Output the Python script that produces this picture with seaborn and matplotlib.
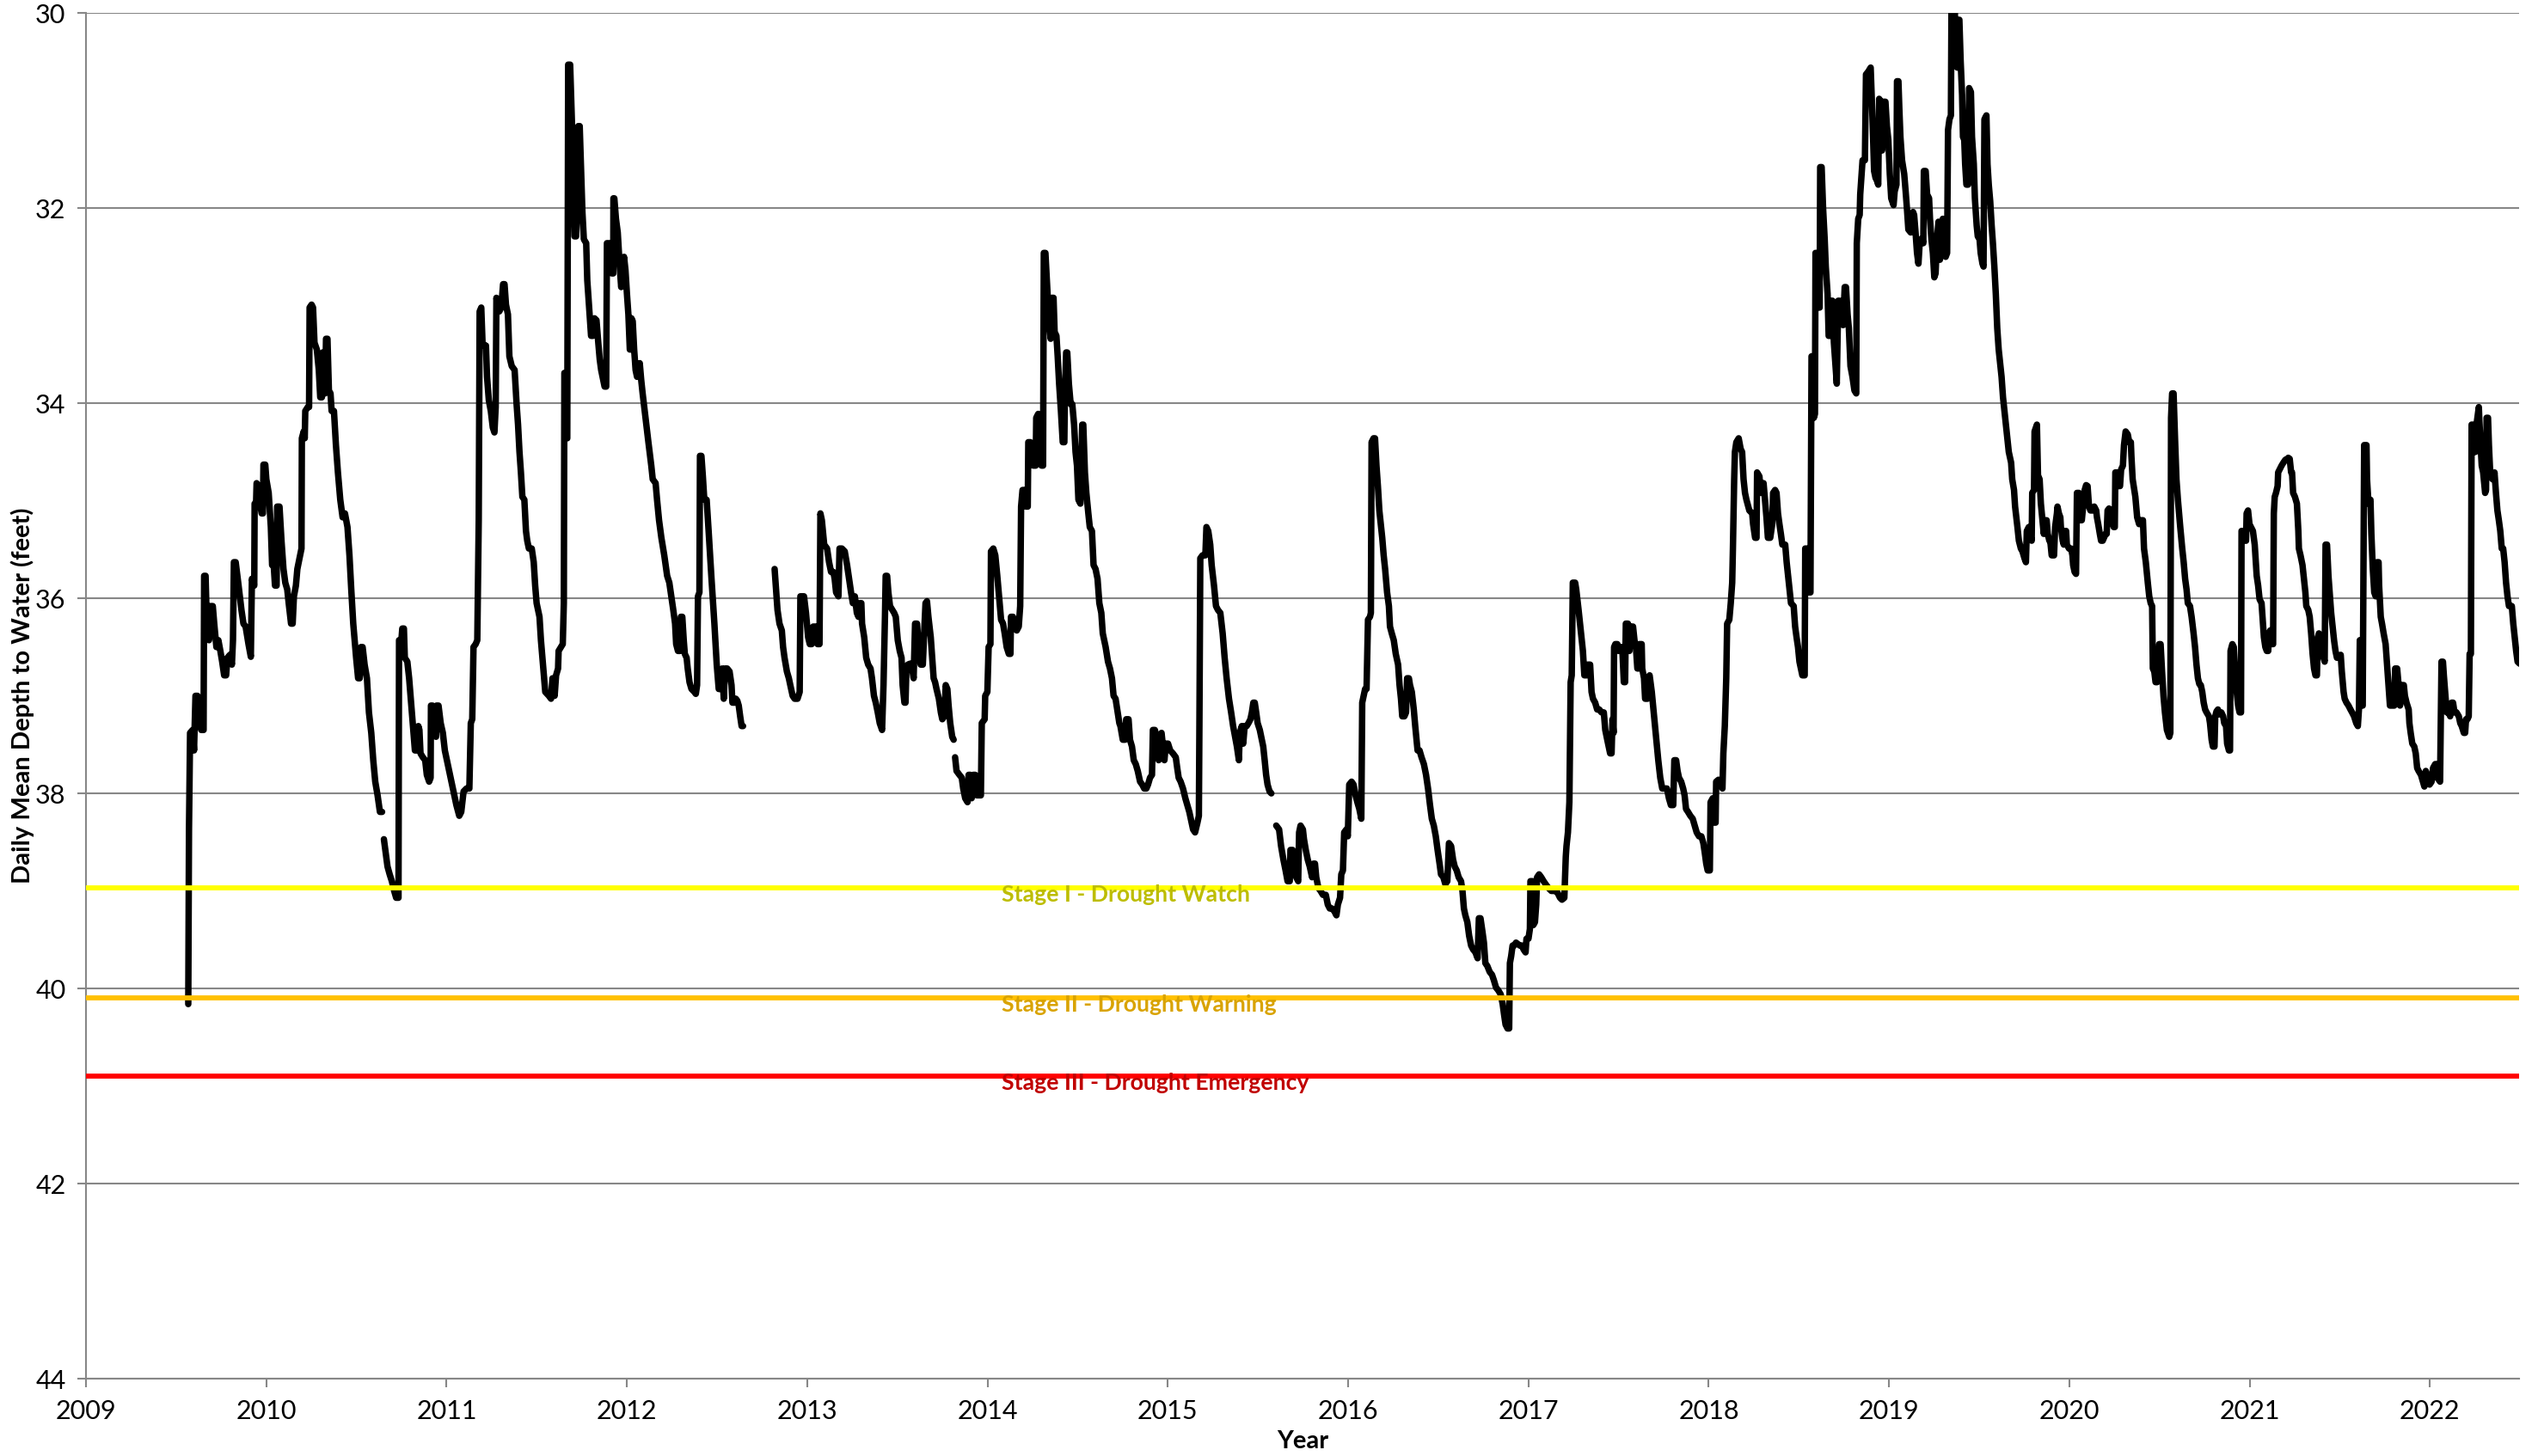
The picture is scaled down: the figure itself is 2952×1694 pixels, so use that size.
import matplotlib
matplotlib.use("Agg")
import matplotlib.pyplot as plt
import pandas as pd
import seaborn as sns

# ---------------- data (decimal year, depth to water in feet) ----------------
seg_a = [(2009.567, 40.16), (2009.571, 38.37), (2009.577, 37.38), (2009.591, 37.35), (2009.599, 37.56),
         (2009.607, 37.00), (2009.618, 37.00), (2009.623, 37.24), (2009.639, 37.35), (2009.652, 37.35),
         (2009.655, 35.77), (2009.663, 35.77), (2009.671, 36.33), (2009.682, 36.43), (2009.690, 36.08),
         (2009.703, 36.08), (2009.711, 36.26), (2009.723, 36.50), (2009.734, 36.43), (2009.745, 36.54),
         (2009.755, 36.65), (2009.766, 36.79), (2009.777, 36.79), (2009.784, 36.61), (2009.798, 36.58),
         (2009.809, 36.68), (2009.815, 36.43), (2009.820, 35.63), (2009.830, 35.63), (2009.846, 35.87),
         (2009.862, 36.12), (2009.873, 36.26), (2009.885, 36.29), (2009.901, 36.47), (2009.914, 36.60),
         (2009.920, 35.80), (2009.933, 35.87), (2009.935, 35.03), (2009.943, 35.03), (2009.946, 34.82),
         (2009.957, 34.85), (2009.965, 35.03), (2009.974, 35.13), (2009.981, 35.13), (2009.984, 34.63),
         (2009.994, 34.63), (2010.000, 34.78), (2010.013, 34.92), (2010.025, 35.27), (2010.032, 35.66),
         (2010.041, 35.66), (2010.048, 35.87), (2010.057, 35.87), (2010.060, 35.06), (2010.073, 35.06),
         (2010.084, 35.41), (2010.095, 35.70), (2010.105, 35.84), (2010.116, 35.91), (2010.124, 36.05),
         (2010.137, 36.26), (2010.146, 36.26), (2010.153, 35.98), (2010.164, 35.87), (2010.172, 35.70),
         (2010.184, 35.59), (2010.195, 35.49), (2010.197, 34.36), (2010.207, 34.29), (2010.213, 34.36),
         (2010.216, 34.08), (2010.230, 34.04), (2010.237, 34.04), (2010.240, 33.02), (2010.251, 32.99),
         (2010.259, 33.02), (2010.267, 33.38), (2010.280, 33.45), (2010.291, 33.66), (2010.299, 33.94),
         (2010.308, 33.94), (2010.312, 33.48), (2010.321, 33.52), (2010.326, 33.90), (2010.331, 33.34),
         (2010.339, 33.34), (2010.347, 33.87), (2010.356, 33.90), (2010.362, 34.08), (2010.375, 34.08),
         (2010.386, 34.43), (2010.397, 34.71), (2010.410, 34.99), (2010.423, 35.17), (2010.436, 35.13),
         (2010.450, 35.27), (2010.461, 35.56), (2010.471, 35.91), (2010.482, 36.26), (2010.498, 36.61),
         (2010.509, 36.82), (2010.518, 36.82), (2010.525, 36.50), (2010.534, 36.50), (2010.545, 36.68),
         (2010.558, 36.82), (2010.569, 37.17), (2010.582, 37.38), (2010.593, 37.66), (2010.604, 37.88),
         (2010.617, 38.02), (2010.630, 38.19), (2010.642, 38.19)]

seg_b = [(2010.652, 38.47), (2010.665, 38.65), (2010.672, 38.75), (2010.684, 38.83), (2010.696, 38.90),
         (2010.709, 39.00), (2010.720, 39.07), (2010.733, 39.07), (2010.736, 36.43), (2010.749, 36.43),
         (2010.754, 36.31), (2010.763, 36.31), (2010.768, 36.61), (2010.782, 36.65), (2010.792, 36.82),
         (2010.804, 37.10), (2010.816, 37.38), (2010.824, 37.56), (2010.836, 37.56), (2010.843, 37.31),
         (2010.849, 37.35), (2010.855, 37.59), (2010.868, 37.63), (2010.881, 37.66), (2010.890, 37.81),
         (2010.903, 37.88), (2010.911, 37.84), (2010.913, 37.10), (2010.922, 37.10), (2010.932, 37.38),
         (2010.941, 37.42), (2010.944, 37.10), (2010.955, 37.10), (2010.967, 37.28), (2010.979, 37.38),
         (2010.990, 37.56), (2011.006, 37.70), (2011.022, 37.84), (2011.038, 37.98), (2011.054, 38.12),
         (2011.070, 38.23), (2011.081, 38.19), (2011.094, 37.98), (2011.110, 37.95), (2011.126, 37.95),
         (2011.134, 37.28), (2011.142, 37.24), (2011.149, 36.50), (2011.161, 36.47), (2011.170, 36.43),
         (2011.178, 35.20), (2011.183, 33.06), (2011.192, 33.02), (2011.199, 33.38), (2011.208, 33.41),
         (2011.218, 33.41), (2011.224, 33.73), (2011.234, 33.97), (2011.245, 34.08), (2011.256, 34.25),
         (2011.265, 34.30), (2011.272, 34.04), (2011.276, 32.92), (2011.292, 33.06), (2011.303, 33.02),
         (2011.313, 32.78), (2011.321, 32.78), (2011.329, 32.99), (2011.340, 33.09), (2011.348, 33.52),
         (2011.361, 33.62), (2011.377, 33.66), (2011.388, 34.01), (2011.396, 34.22), (2011.404, 34.50),
         (2011.412, 34.71), (2011.420, 34.96), (2011.431, 34.99), (2011.440, 35.31), (2011.447, 35.41),
         (2011.456, 35.49), (2011.472, 35.49), (2011.483, 35.63), (2011.491, 35.87), (2011.499, 36.05),
         (2011.515, 36.19), (2011.523, 36.43), (2011.531, 36.61), (2011.539, 36.79), (2011.547, 36.96),
         (2011.567, 37.00), (2011.579, 37.03), (2011.587, 36.82), (2011.599, 37.00), (2011.607, 36.79),
         (2011.618, 36.72), (2011.621, 36.54), (2011.634, 36.50), (2011.644, 36.47), (2011.650, 36.05),
         (2011.653, 33.69), (2011.660, 33.69), (2011.663, 34.36), (2011.669, 34.36), (2011.674, 30.53),
         (2011.685, 30.53), (2011.695, 31.13), (2011.701, 31.69), (2011.709, 32.29), (2011.718, 32.29),
         (2011.725, 31.90), (2011.730, 31.16), (2011.738, 31.16), (2011.746, 31.62), (2011.753, 32.04),
         (2011.761, 32.32), (2011.774, 32.36), (2011.780, 32.74), (2011.793, 33.09), (2011.801, 33.31),
         (2011.812, 33.31), (2011.820, 33.13), (2011.831, 33.15), (2011.841, 33.38), (2011.849, 33.55),
         (2011.857, 33.66), (2011.868, 33.76), (2011.876, 33.83), (2011.885, 33.83), (2011.889, 32.36),
         (2011.900, 32.36), (2011.908, 32.39), (2011.916, 32.67), (2011.924, 32.67), (2011.925, 31.90),
         (2011.930, 31.90), (2011.939, 32.11), (2011.949, 32.25), (2011.960, 32.60), (2011.968, 32.81),
         (2011.976, 32.74), (2011.984, 32.50), (2011.992, 32.64), (2012.000, 32.88), (2012.008, 33.09),
         (2012.016, 33.45), (2012.022, 33.45), (2012.025, 33.13), (2012.032, 33.16), (2012.040, 33.45),
         (2012.048, 33.66), (2012.056, 33.73), (2012.067, 33.69), (2012.071, 33.59), (2012.079, 33.76),
         (2012.087, 33.90), (2012.103, 34.15), (2012.119, 34.40), (2012.135, 34.64), (2012.143, 34.78),
         (2012.159, 34.82), (2012.167, 34.99), (2012.178, 35.20), (2012.191, 35.38), (2012.207, 35.56),
         (2012.223, 35.77), (2012.235, 35.84), (2012.246, 35.98), (2012.257, 36.12), (2012.267, 36.26),
         (2012.273, 36.47), (2012.283, 36.54), (2012.294, 36.54), (2012.299, 36.19), (2012.307, 36.19),
         (2012.315, 36.43), (2012.321, 36.57), (2012.331, 36.61), (2012.337, 36.72), (2012.347, 36.86),
         (2012.358, 36.93), (2012.374, 36.96), (2012.382, 36.98), (2012.389, 36.89), (2012.394, 35.98),
         (2012.402, 35.94), (2012.405, 34.54), (2012.413, 34.54), (2012.421, 34.75), (2012.429, 34.99),
         (2012.442, 34.99), (2012.453, 35.31), (2012.469, 35.80), (2012.485, 36.26), (2012.498, 36.68),
         (2012.509, 36.93), (2012.521, 36.93), (2012.528, 36.72), (2012.537, 37.03), (2012.544, 36.72),
         (2012.556, 36.72), (2012.569, 36.75), (2012.580, 36.89), (2012.585, 37.07), (2012.598, 37.07),
         (2012.604, 37.03), (2012.612, 37.05), (2012.620, 37.10), (2012.628, 37.21), (2012.636, 37.31),
         (2012.644, 37.31)]

seg_c = [(2012.819, 35.70), (2012.827, 35.91), (2012.835, 36.12), (2012.846, 36.26), (2012.859, 36.33),
         (2012.866, 36.50), (2012.874, 36.61), (2012.887, 36.75), (2012.898, 36.82), (2012.906, 36.89),
         (2012.919, 37.00), (2012.930, 37.03), (2012.946, 37.03), (2012.958, 36.96), (2012.962, 35.98),
         (2012.982, 35.98), (2012.993, 36.15), (2013.005, 36.40), (2013.014, 36.47), (2013.025, 36.47),
         (2013.033, 36.29), (2013.052, 36.29), (2013.057, 36.47), (2013.068, 36.47), (2013.073, 35.13),
         (2013.081, 35.20), (2013.094, 35.45), (2013.110, 35.49), (2013.121, 35.63), (2013.132, 35.73),
         (2013.145, 35.73), (2013.152, 35.80), (2013.160, 35.94), (2013.173, 35.98), (2013.179, 35.49),
         (2013.192, 35.49), (2013.208, 35.52), (2013.221, 35.66), (2013.232, 35.80), (2013.243, 35.94),
         (2013.253, 36.05), (2013.264, 35.98), (2013.275, 36.15), (2013.284, 36.19), (2013.291, 36.05),
         (2013.300, 36.05), (2013.304, 36.26), (2013.316, 36.40), (2013.327, 36.61), (2013.338, 36.68),
         (2013.351, 36.72), (2013.359, 36.82), (2013.370, 37.00), (2013.380, 37.07), (2013.391, 37.17),
         (2013.402, 37.28), (2013.415, 37.35), (2013.423, 36.89), (2013.431, 36.19), (2013.435, 35.77),
         (2013.443, 35.77), (2013.450, 35.94), (2013.459, 36.08), (2013.472, 36.12), (2013.482, 36.15),
         (2013.491, 36.19), (2013.502, 36.43), (2013.513, 36.54), (2013.523, 36.61), (2013.529, 36.89),
         (2013.539, 37.07), (2013.545, 37.07), (2013.550, 36.72), (2013.558, 36.68), (2013.571, 36.67),
         (2013.582, 36.72), (2013.590, 36.82), (2013.598, 36.26), (2013.609, 36.26), (2013.618, 36.50),
         (2013.629, 36.68), (2013.641, 36.68), (2013.650, 36.29), (2013.656, 36.05), (2013.664, 36.03),
         (2013.672, 36.19), (2013.685, 36.40), (2013.693, 36.61), (2013.701, 36.82), (2013.709, 36.86),
         (2013.717, 36.93), (2013.730, 37.03), (2013.741, 37.17), (2013.749, 37.24), (2013.761, 37.21),
         (2013.768, 36.89), (2013.777, 36.93), (2013.784, 37.10), (2013.793, 37.28), (2013.804, 37.42),
         (2013.812, 37.45)]

seg_d = [(2013.820, 37.63), (2013.828, 37.77), (2013.844, 37.81), (2013.857, 37.84), (2013.865, 37.95),
         (2013.876, 38.05), (2013.889, 38.09), (2013.895, 37.81), (2013.905, 37.81), (2013.912, 38.05),
         (2013.920, 37.81), (2013.932, 37.81), (2013.940, 38.02), (2013.963, 38.02), (2013.968, 37.28),
         (2013.984, 37.24), (2013.987, 37.00), (2013.999, 36.96), (2014.006, 36.50), (2014.016, 36.47),
         (2014.019, 35.52), (2014.032, 35.49), (2014.043, 35.56), (2014.054, 35.77), (2014.064, 35.98),
         (2014.075, 36.22), (2014.086, 36.26), (2014.095, 36.36), (2014.106, 36.50), (2014.118, 36.57),
         (2014.127, 36.57), (2014.130, 36.19), (2014.141, 36.19), (2014.149, 36.29), (2014.162, 36.33),
         (2014.173, 36.29), (2014.181, 36.08), (2014.186, 35.06), (2014.194, 34.89), (2014.207, 34.89),
         (2014.213, 35.06), (2014.223, 35.06), (2014.226, 34.40), (2014.238, 34.40), (2014.250, 34.43),
         (2014.254, 34.64), (2014.267, 34.64), (2014.270, 34.15), (2014.281, 34.11), (2014.289, 34.36),
         (2014.299, 34.64), (2014.308, 34.64), (2014.312, 32.46), (2014.321, 32.46), (2014.331, 32.81),
         (2014.340, 33.13), (2014.350, 33.34), (2014.356, 32.92), (2014.366, 32.92), (2014.372, 33.27),
         (2014.382, 33.31), (2014.389, 33.52), (2014.397, 33.80), (2014.407, 34.08), (2014.417, 34.40),
         (2014.426, 34.40), (2014.429, 33.90), (2014.436, 33.48), (2014.442, 33.48), (2014.451, 33.80),
         (2014.461, 34.01), (2014.470, 34.01), (2014.480, 34.22), (2014.488, 34.50), (2014.496, 34.64),
         (2014.504, 34.99), (2014.515, 35.03), (2014.525, 34.22), (2014.531, 34.22), (2014.540, 34.71),
         (2014.548, 34.92), (2014.559, 35.13), (2014.567, 35.27), (2014.579, 35.31), (2014.588, 35.66),
         (2014.599, 35.70), (2014.610, 35.80), (2014.620, 36.05), (2014.631, 36.15), (2014.639, 36.36),
         (2014.647, 36.43), (2014.655, 36.50), (2014.668, 36.65), (2014.679, 36.72), (2014.690, 36.82),
         (2014.699, 37.00), (2014.710, 37.03), (2014.722, 37.17), (2014.731, 37.28), (2014.737, 37.31),
         (2014.750, 37.45), (2014.763, 37.45), (2014.769, 37.24), (2014.782, 37.24), (2014.790, 37.45),
         (2014.801, 37.52), (2014.811, 37.66), (2014.822, 37.70), (2014.833, 37.77), (2014.846, 37.88),
         (2014.858, 37.91), (2014.869, 37.95), (2014.881, 37.95), (2014.890, 37.91), (2014.901, 37.84),
         (2014.912, 37.81), (2014.917, 37.35), (2014.928, 37.35), (2014.938, 37.42), (2014.949, 37.66),
         (2014.957, 37.42), (2014.965, 37.38), (2014.973, 37.52), (2014.981, 37.66), (2014.989, 37.49),
         (2015.001, 37.49), (2015.013, 37.56), (2015.028, 37.59), (2015.044, 37.63), (2015.052, 37.74),
         (2015.060, 37.84), (2015.071, 37.88), (2015.084, 37.95), (2015.097, 38.05), (2015.108, 38.12),
         (2015.119, 38.19), (2015.132, 38.30), (2015.140, 38.37), (2015.151, 38.40), (2015.164, 38.30),
         (2015.172, 38.23), (2015.175, 37.31), (2015.180, 35.59), (2015.192, 35.56), (2015.208, 35.56),
         (2015.214, 35.27), (2015.224, 35.31), (2015.235, 35.45), (2015.243, 35.66), (2015.256, 35.87),
         (2015.267, 36.08), (2015.278, 36.12), (2015.291, 36.15), (2015.304, 36.36), (2015.315, 36.61),
         (2015.326, 36.82), (2015.339, 37.03), (2015.351, 37.17), (2015.362, 37.31), (2015.373, 37.42),
         (2015.383, 37.52), (2015.394, 37.66), (2015.399, 37.38), (2015.410, 37.31), (2015.418, 37.49),
         (2015.426, 37.31), (2015.437, 37.31), (2015.447, 37.28), (2015.458, 37.24), (2015.466, 37.17),
         (2015.474, 37.07), (2015.482, 37.07), (2015.490, 37.17), (2015.498, 37.28), (2015.510, 37.35),
         (2015.521, 37.45), (2015.529, 37.52), (2015.537, 37.66), (2015.545, 37.81), (2015.553, 37.91),
         (2015.564, 37.98), (2015.574, 38.00)]

seg_e = [(2015.601, 38.33), (2015.617, 38.37), (2015.628, 38.54), (2015.641, 38.68), (2015.653, 38.79),
         (2015.664, 38.90), (2015.676, 38.90), (2015.680, 38.58), (2015.692, 38.58), (2015.701, 38.72),
         (2015.712, 38.86), (2015.723, 38.90), (2015.728, 38.40), (2015.736, 38.33), (2015.749, 38.37),
         (2015.755, 38.47), (2015.765, 38.58), (2015.776, 38.68), (2015.787, 38.75), (2015.800, 38.86),
         (2015.808, 38.72), (2015.816, 38.72), (2015.823, 38.86), (2015.835, 38.97), (2015.847, 39.00),
         (2015.860, 39.04), (2015.876, 39.04), (2015.887, 39.14), (2015.898, 39.18), (2015.911, 39.18),
         (2015.924, 39.21), (2015.935, 39.25), (2015.943, 39.14), (2015.955, 39.07), (2015.962, 38.83),
         (2015.971, 38.79), (2015.978, 38.40), (2015.990, 38.37), (2015.998, 38.44), (2016.006, 37.91),
         (2016.019, 37.88), (2016.030, 37.91), (2016.041, 38.02), (2016.051, 38.09), (2016.062, 38.16),
         (2016.073, 38.26), (2016.078, 37.07), (2016.086, 37.00), (2016.094, 36.93), (2016.102, 36.93),
         (2016.110, 36.22), (2016.121, 36.19), (2016.126, 36.15), (2016.130, 34.40), (2016.141, 34.36),
         (2016.149, 34.36), (2016.157, 34.64), (2016.165, 34.85), (2016.173, 35.10), (2016.181, 35.24),
         (2016.189, 35.38), (2016.197, 35.56), (2016.205, 35.70), (2016.216, 35.94), (2016.226, 36.08),
         (2016.232, 36.29), (2016.242, 36.36), (2016.253, 36.43), (2016.264, 36.57), (2016.277, 36.68),
         (2016.285, 36.89), (2016.293, 37.03), (2016.300, 37.21), (2016.312, 37.21), (2016.321, 37.17),
         (2016.327, 36.82), (2016.337, 36.82), (2016.343, 36.89), (2016.353, 36.96), (2016.364, 37.14),
         (2016.372, 37.31), (2016.385, 37.56), (2016.396, 37.56), (2016.407, 37.63), (2016.420, 37.70),
         (2016.432, 37.81), (2016.443, 37.95), (2016.454, 38.12), (2016.464, 38.26), (2016.475, 38.33),
         (2016.486, 38.44), (2016.496, 38.58), (2016.507, 38.72), (2016.515, 38.83), (2016.528, 38.86),
         (2016.539, 38.93), (2016.550, 38.90), (2016.559, 38.51), (2016.571, 38.54), (2016.582, 38.68),
         (2016.591, 38.75), (2016.602, 38.79), (2016.613, 38.86), (2016.626, 38.90), (2016.634, 39.00),
         (2016.642, 39.18), (2016.650, 39.25), (2016.661, 39.32), (2016.671, 39.46), (2016.682, 39.56),
         (2016.693, 39.60), (2016.706, 39.63), (2016.718, 39.69), (2016.725, 39.28), (2016.734, 39.28),
         (2016.745, 39.42), (2016.753, 39.53), (2016.761, 39.74), (2016.772, 39.77), (2016.785, 39.83),
         (2016.798, 39.86), (2016.809, 39.92), (2016.820, 39.99), (2016.833, 40.02), (2016.846, 40.06),
         (2016.857, 40.16), (2016.865, 40.27), (2016.873, 40.37), (2016.884, 40.41), (2016.893, 40.41),
         (2016.897, 39.74), (2016.904, 39.67), (2016.912, 39.56), (2016.920, 39.56), (2016.931, 39.53),
         (2016.952, 39.56), (2016.963, 39.56), (2016.973, 39.60), (2016.984, 39.63), (2016.989, 39.49),
         (2017.000, 39.49), (2017.008, 39.39), (2017.011, 38.90), (2017.024, 38.90), (2017.027, 39.35),
         (2017.036, 39.32), (2017.043, 39.14), (2017.048, 38.86), (2017.059, 38.83), (2017.071, 38.86),
         (2017.084, 38.90), (2017.095, 38.93), (2017.111, 38.97), (2017.127, 39.00), (2017.143, 39.00),
         (2017.159, 39.01), (2017.175, 39.07), (2017.186, 39.09), (2017.199, 39.07), (2017.207, 38.65),
         (2017.211, 38.54), (2017.219, 38.40), (2017.227, 38.09), (2017.230, 37.59), (2017.234, 36.86),
         (2017.240, 36.79), (2017.246, 35.84), (2017.259, 35.84), (2017.265, 35.91), (2017.278, 36.12),
         (2017.286, 36.26), (2017.294, 36.40), (2017.302, 36.54), (2017.310, 36.79), (2017.323, 36.79),
         (2017.329, 36.68), (2017.342, 36.68), (2017.350, 36.96), (2017.358, 37.03), (2017.370, 37.07),
         (2017.381, 37.14), (2017.393, 37.14), (2017.405, 37.17), (2017.418, 37.17), (2017.426, 37.35),
         (2017.437, 37.45), (2017.453, 37.59), (2017.461, 37.59), (2017.466, 37.24), (2017.472, 37.38),
         (2017.475, 36.50), (2017.482, 36.47), (2017.493, 36.47), (2017.501, 36.54), (2017.509, 36.50),
         (2017.520, 36.50), (2017.529, 36.86), (2017.536, 36.86), (2017.540, 36.26), (2017.552, 36.26),
         (2017.560, 36.54), (2017.567, 36.29), (2017.580, 36.29), (2017.588, 36.43), (2017.596, 36.50),
         (2017.604, 36.72), (2017.612, 36.72), (2017.615, 36.47), (2017.628, 36.47), (2017.631, 36.72),
         (2017.641, 36.82), (2017.647, 37.03), (2017.660, 37.03), (2017.664, 36.82), (2017.672, 36.79),
         (2017.684, 36.96), (2017.695, 37.17), (2017.704, 37.35), (2017.711, 37.49), (2017.720, 37.66),
         (2017.731, 37.84), (2017.742, 37.95), (2017.755, 37.95), (2017.768, 37.95), (2017.779, 38.05),
         (2017.790, 38.12), (2017.803, 38.12), (2017.809, 37.66), (2017.819, 37.66), (2017.827, 37.77),
         (2017.835, 37.84), (2017.847, 37.88), (2017.858, 37.95), (2017.866, 38.02), (2017.874, 38.16),
         (2017.885, 38.19), (2017.898, 38.23), (2017.911, 38.26), (2017.922, 38.33), (2017.933, 38.40),
         (2017.946, 38.44), (2017.959, 38.44), (2017.970, 38.51), (2017.978, 38.61), (2017.986, 38.72),
         (2017.994, 38.79), (2018.006, 38.79), (2018.010, 38.09), (2018.022, 38.05), (2018.029, 38.30),
         (2018.038, 38.30), (2018.041, 37.88), (2018.054, 37.86), (2018.065, 37.88), (2018.076, 37.95),
         (2018.081, 37.59), (2018.089, 37.31), (2018.097, 36.82), (2018.102, 36.26), (2018.114, 36.22),
         (2018.122, 36.05), (2018.130, 35.84), (2018.134, 35.49), (2018.141, 34.78), (2018.145, 34.50),
         (2018.153, 34.40), (2018.166, 34.36), (2018.177, 34.47), (2018.185, 34.50), (2018.193, 34.78),
         (2018.201, 34.92), (2018.209, 34.99), (2018.225, 35.10), (2018.241, 35.13), (2018.246, 35.24),
         (2018.257, 35.38), (2018.265, 35.38), (2018.268, 34.71), (2018.281, 34.75), (2018.289, 34.92),
         (2018.293, 34.82), (2018.304, 34.82), (2018.312, 34.99), (2018.320, 35.17), (2018.328, 35.38),
         (2018.341, 35.38), (2018.352, 35.24), (2018.357, 34.92), (2018.368, 34.89), (2018.376, 34.92),
         (2018.384, 35.13), (2018.392, 35.24), (2018.400, 35.34), (2018.408, 35.45), (2018.424, 35.45),
         (2018.432, 35.63), (2018.440, 35.77), (2018.448, 35.91), (2018.456, 36.05), (2018.471, 36.08),
         (2018.479, 36.29), (2018.487, 36.40), (2018.495, 36.50), (2018.503, 36.65), (2018.519, 36.79),
         (2018.532, 36.79), (2018.535, 35.49), (2018.548, 35.49), (2018.554, 35.94), (2018.564, 35.94),
         (2018.567, 34.78), (2018.570, 33.52), (2018.578, 33.52), (2018.583, 34.15), (2018.589, 34.11),
         (2018.592, 32.46), (2018.602, 32.46), (2018.607, 33.02), (2018.615, 33.02), (2018.618, 31.58),
         (2018.626, 31.58), (2018.634, 32.00), (2018.643, 32.32), (2018.649, 32.60), (2018.659, 32.88),
         (2018.665, 33.31), (2018.675, 33.31), (2018.681, 32.95), (2018.686, 32.95), (2018.694, 33.38),
         (2018.702, 33.59), (2018.710, 33.80), (2018.718, 32.95), (2018.726, 32.95), (2018.734, 33.16),
         (2018.745, 33.20), (2018.754, 32.81), (2018.761, 32.81), (2018.770, 33.09), (2018.777, 33.23),
         (2018.786, 33.62), (2018.797, 33.73), (2018.808, 33.87), (2018.818, 33.90), (2018.821, 32.36),
         (2018.829, 32.11), (2018.837, 32.07), (2018.840, 31.86), (2018.853, 31.51), (2018.866, 31.51),
         (2018.872, 30.63), (2018.885, 30.60), (2018.898, 30.56), (2018.909, 31.13), (2018.917, 31.62),
         (2018.925, 31.69), (2018.933, 31.72), (2018.940, 31.76), (2018.945, 30.88), (2018.956, 30.91),
         (2018.961, 31.41), (2018.969, 30.91), (2018.980, 30.91), (2018.988, 31.16), (2018.996, 31.30),
         (2019.004, 31.65), (2019.012, 31.90), (2019.025, 31.97), (2019.031, 31.83), (2019.041, 31.76),
         (2019.044, 30.70), (2019.052, 30.70), (2019.057, 30.98), (2019.063, 31.27), (2019.072, 31.51),
         (2019.084, 31.65), (2019.092, 31.83), (2019.099, 32.00), (2019.107, 32.22), (2019.120, 32.25),
         (2019.126, 32.07), (2019.133, 32.04), (2019.139, 32.07), (2019.147, 32.25), (2019.155, 32.46),
         (2019.163, 32.57), (2019.171, 32.32), (2019.184, 32.32), (2019.190, 32.36), (2019.193, 31.62),
         (2019.203, 31.62), (2019.211, 31.86), (2019.222, 31.90), (2019.227, 32.11), (2019.235, 32.32),
         (2019.243, 32.46), (2019.251, 32.71), (2019.258, 32.67), (2019.266, 32.32), (2019.274, 32.14),
         (2019.282, 32.53), (2019.290, 32.29), (2019.298, 32.11), (2019.306, 32.14), (2019.314, 32.50),
         (2019.322, 32.46), (2019.327, 31.20), (2019.335, 31.09), (2019.343, 31.05), (2019.346, 30.00),
         (2019.365, 30.00), (2019.370, 30.39), (2019.378, 30.56), (2019.381, 30.07), (2019.390, 30.07),
         (2019.397, 30.49), (2019.405, 30.84), (2019.410, 31.27), (2019.417, 31.30), (2019.422, 31.55),
         (2019.429, 31.76), (2019.438, 31.76), (2019.444, 30.77), (2019.454, 30.81), (2019.460, 31.27),
         (2019.470, 31.55), (2019.476, 31.90), (2019.486, 32.18), (2019.492, 32.29), (2019.502, 32.32),
         (2019.508, 32.46), (2019.518, 32.57), (2019.524, 32.60), (2019.529, 31.09), (2019.540, 31.05),
         (2019.546, 31.55), (2019.553, 31.76), (2019.561, 31.93), (2019.569, 32.18), (2019.576, 32.36),
         (2019.584, 32.60), (2019.592, 32.88), (2019.600, 33.23), (2019.608, 33.45), (2019.624, 33.73),
         (2019.632, 33.94), (2019.640, 34.08), (2019.656, 34.36), (2019.664, 34.50), (2019.677, 34.61),
         (2019.683, 34.78), (2019.693, 34.89), (2019.699, 35.06), (2019.712, 35.27), (2019.720, 35.41),
         (2019.731, 35.49), (2019.740, 35.52), (2019.751, 35.59), (2019.759, 35.63), (2019.764, 35.31),
         (2019.775, 35.27), (2019.783, 35.34), (2019.791, 35.41), (2019.794, 34.92), (2019.804, 34.89),
         (2019.807, 34.29), (2019.820, 34.22), (2019.826, 34.74), (2019.835, 34.78), (2019.842, 35.03),
         (2019.851, 35.20), (2019.858, 35.34), (2019.862, 35.20), (2019.874, 35.20), (2019.880, 35.34),
         (2019.889, 35.41), (2019.894, 35.41), (2019.902, 35.56), (2019.915, 35.56), (2019.921, 35.27),
         (2019.931, 35.13), (2019.934, 35.06), (2019.942, 35.13), (2019.950, 35.17), (2019.953, 35.27),
         (2019.963, 35.41), (2019.969, 35.45), (2019.974, 35.31), (2019.982, 35.31), (2019.986, 35.45),
         (2019.998, 35.49), (2020.010, 35.49), (2020.017, 35.56), (2020.021, 35.66), (2020.029, 35.73),
         (2020.037, 35.75), (2020.042, 34.92), (2020.053, 34.92), (2020.058, 35.20), (2020.069, 35.20),
         (2020.074, 35.10), (2020.085, 34.89), (2020.093, 34.84), (2020.101, 34.85), (2020.109, 35.06),
         (2020.117, 35.10), (2020.128, 35.10), (2020.138, 35.06), (2020.149, 35.10), (2020.153, 35.17),
         (2020.160, 35.24), (2020.169, 35.34), (2020.176, 35.41), (2020.185, 35.41), (2020.192, 35.38),
         (2020.201, 35.34), (2020.207, 35.34), (2020.212, 35.10), (2020.220, 35.08), (2020.233, 35.10),
         (2020.236, 35.20), (2020.246, 35.27), (2020.252, 35.27), (2020.255, 34.71), (2020.265, 34.71),
         (2020.271, 34.85), (2020.281, 34.85), (2020.287, 34.68), (2020.297, 34.64), (2020.303, 34.43),
         (2020.312, 34.29), (2020.324, 34.32), (2020.332, 34.40), (2020.341, 34.40), (2020.344, 34.54),
         (2020.351, 34.78), (2020.360, 34.89), (2020.366, 34.96), (2020.376, 35.17), (2020.387, 35.24),
         (2020.398, 35.20), (2020.408, 35.20), (2020.414, 35.49), (2020.424, 35.63), (2020.435, 35.84),
         (2020.443, 35.98), (2020.451, 36.05), (2020.459, 36.08), (2020.463, 36.72), (2020.471, 36.75),
         (2020.478, 36.86), (2020.487, 36.86), (2020.494, 36.61), (2020.498, 36.47), (2020.506, 36.47),
         (2020.514, 36.75), (2020.522, 37.00), (2020.530, 37.17), (2020.541, 37.35), (2020.554, 37.42),
         (2020.560, 37.38), (2020.564, 34.15), (2020.570, 33.90), (2020.578, 33.90), (2020.586, 34.36),
         (2020.594, 34.78), (2020.602, 34.99), (2020.615, 35.27), (2020.626, 35.49), (2020.634, 35.63),
         (2020.642, 35.80), (2020.650, 35.91), (2020.657, 36.05), (2020.669, 36.08), (2020.678, 36.19),
         (2020.689, 36.36), (2020.697, 36.50), (2020.705, 36.68), (2020.713, 36.82), (2020.721, 36.88),
         (2020.729, 36.89), (2020.737, 36.96), (2020.745, 37.07), (2020.753, 37.14), (2020.761, 37.17),
         (2020.774, 37.21), (2020.780, 37.28), (2020.789, 37.45), (2020.796, 37.52), (2020.805, 37.52),
         (2020.809, 37.21), (2020.816, 37.16), (2020.824, 37.14), (2020.832, 37.19), (2020.843, 37.17),
         (2020.853, 37.21), (2020.859, 37.28), (2020.869, 37.31), (2020.875, 37.49), (2020.885, 37.56),
         (2020.891, 37.56), (2020.894, 36.54), (2020.904, 36.47), (2020.912, 36.50), (2020.920, 36.75),
         (2020.928, 36.96), (2020.936, 37.10), (2020.944, 37.17), (2020.952, 37.17), (2020.955, 35.31),
         (2020.964, 35.31), (2020.971, 35.41), (2020.980, 35.41), (2020.983, 35.13), (2020.991, 35.10),
         (2020.999, 35.24), (2021.007, 35.27), (2021.018, 35.31), (2021.028, 35.45), (2021.034, 35.63),
         (2021.039, 35.77), (2021.047, 35.87), (2021.055, 36.01), (2021.066, 36.05), (2021.071, 36.19),
         (2021.079, 36.40), (2021.087, 36.50), (2021.095, 36.54), (2021.103, 36.54), (2021.107, 36.36),
         (2021.114, 36.33), (2021.123, 36.47), (2021.130, 36.47), (2021.134, 35.13), (2021.139, 34.96),
         (2021.146, 34.92), (2021.155, 34.85), (2021.158, 34.71), (2021.166, 34.68), (2021.177, 34.64),
         (2021.187, 34.61), (2021.198, 34.58), (2021.206, 34.58), (2021.214, 34.56), (2021.222, 34.57),
         (2021.230, 34.71), (2021.235, 34.71), (2021.241, 34.92), (2021.251, 34.96), (2021.262, 35.03),
         (2021.270, 35.31), (2021.273, 35.49), (2021.282, 35.56), (2021.293, 35.66), (2021.301, 35.80),
         (2021.309, 35.94), (2021.314, 36.08), (2021.325, 36.12), (2021.333, 36.19), (2021.341, 36.36),
         (2021.349, 36.57), (2021.357, 36.72), (2021.365, 36.79), (2021.373, 36.79), (2021.378, 36.40),
         (2021.384, 36.36), (2021.394, 36.40), (2021.400, 36.50), (2021.410, 36.61), (2021.416, 36.65),
         (2021.421, 35.45), (2021.429, 35.45), (2021.437, 35.77), (2021.445, 35.98), (2021.452, 36.15),
         (2021.460, 36.29), (2021.468, 36.43), (2021.476, 36.54), (2021.484, 36.61), (2021.492, 36.60),
         (2021.505, 36.58), (2021.511, 36.75), (2021.521, 36.96), (2021.527, 37.03), (2021.537, 37.07),
         (2021.548, 37.10), (2021.559, 37.14), (2021.568, 37.17), (2021.579, 37.21), (2021.591, 37.28),
         (2021.600, 37.31), (2021.606, 37.14), (2021.611, 36.43), (2021.619, 36.43), (2021.622, 37.10),
         (2021.627, 37.10), (2021.635, 34.43), (2021.648, 34.43), (2021.651, 34.78), (2021.659, 35.03),
         (2021.670, 34.99), (2021.675, 35.34), (2021.683, 35.70), (2021.691, 35.94), (2021.699, 35.98),
         (2021.707, 35.63), (2021.715, 35.63), (2021.718, 35.87), (2021.727, 36.19), (2021.734, 36.26),
         (2021.743, 36.36), (2021.754, 36.47), (2021.762, 36.68), (2021.770, 36.89), (2021.778, 37.10),
         (2021.802, 37.10), (2021.807, 36.72), (2021.818, 36.72), (2021.826, 36.89), (2021.834, 37.10),
         (2021.842, 36.89), (2021.855, 36.89), (2021.861, 37.00), (2021.870, 37.07), (2021.882, 37.14),
         (2021.886, 37.28), (2021.893, 37.38), (2021.902, 37.49), (2021.913, 37.52), (2021.921, 37.59),
         (2021.929, 37.74), (2021.937, 37.77), (2021.950, 37.81), (2021.961, 37.88), (2021.969, 37.93),
         (2021.977, 37.77), (2021.985, 37.88), (2021.998, 37.91), (2022.009, 37.88), (2022.017, 37.74),
         (2022.029, 37.70), (2022.036, 37.70), (2022.041, 37.84), (2022.056, 37.88), (2022.064, 36.65),
         (2022.072, 36.65), (2022.077, 36.79), (2022.083, 36.93), (2022.093, 37.17), (2022.104, 37.17),
         (2022.112, 37.21), (2022.120, 37.07), (2022.128, 37.07), (2022.136, 37.17), (2022.147, 37.17),
         (2022.160, 37.21), (2022.168, 37.28), (2022.176, 37.31), (2022.188, 37.38), (2022.195, 37.38),
         (2022.200, 37.24), (2022.208, 37.24), (2022.215, 37.21), (2022.220, 36.57), (2022.227, 36.57),
         (2022.231, 34.22), (2022.239, 34.22), (2022.242, 34.50), (2022.252, 34.50), (2022.258, 34.22),
         (2022.268, 34.08), (2022.271, 34.04), (2022.274, 34.18), (2022.281, 34.43), (2022.287, 34.64),
         (2022.295, 34.71), (2022.306, 34.92), (2022.311, 34.89), (2022.314, 34.15), (2022.322, 34.15),
         (2022.327, 34.43), (2022.335, 34.75), (2022.347, 34.78), (2022.354, 34.78), (2022.358, 34.71),
         (2022.366, 34.92), (2022.374, 35.10), (2022.382, 35.20), (2022.390, 35.31), (2022.398, 35.49),
         (2022.406, 35.49), (2022.414, 35.63), (2022.422, 35.84), (2022.430, 35.98), (2022.438, 36.08),
         (2022.454, 36.08), (2022.462, 36.26), (2022.470, 36.40), (2022.478, 36.54), (2022.486, 36.65),
         (2022.497, 36.67)]

segments = [seg_a, seg_b, seg_c, seg_d, seg_e]

stage_levels = [38.97, 40.10, 40.90]
stage_labels = ["Stage I - Drought Watch", "Stage II - Drought Warning", "Stage III - Drought Emergency"]
stage_line_colors = ["#FFFF00", "#FFC000", "#FF0000"]
stage_text_colors = ["#BDBD00", "#D9A300", "#C00000"]
stage_label_year = 2014.08

x_ticks = list(range(2009, 2023))
y_ticks = list(range(30, 45, 2))

# ---------------- build the table ----------------
rows = []
for sid, seg in enumerate(segments):
    for yr, dep in seg:
        rows.append({"year": yr, "depth": dep, "segment": sid})
df = pd.DataFrame(rows)

# ---------------- plot ----------------
sns.set_theme(style="white")
plt.rcParams["font.family"] = ["Lato", "DejaVu Sans"]

fig = plt.figure(figsize=(14.76, 8.47), dpi=200)
ax = fig.add_axes([0.0339, 0.0531, 0.9587, 0.9380])

grid_col = "#878787"
ax.set_axisbelow(True)
ax.yaxis.grid(True, color=grid_col, lw=0.75)
ax.xaxis.grid(False)

sns.lineplot(data=df, x="year", y="depth", units="segment", estimator=None, sort=False,
             color="black", lw=2.7, ax=ax, legend=False, zorder=2,
             solid_joinstyle="round", solid_capstyle="round")

for lvl, lab, lc, tc in zip(stage_levels, stage_labels, stage_line_colors, stage_text_colors):
    ax.axhline(lvl, color=lc, lw=2.1, zorder=3)
    ax.text(stage_label_year, lvl - 0.04, lab, color=tc, fontsize=9.6, fontweight="bold",
            ha="left", va="top", zorder=4)

ax.set_xlim(2009, 2022.495)
ax.set_ylim(44, 30)
ax.set_xticks(x_ticks)
ax.set_yticks(y_ticks)
ax.set_xticklabels([str(t) for t in x_ticks])
ax.set_yticklabels([str(t) for t in y_ticks])

for side in ["top", "right"]:
    ax.spines[side].set_visible(False)
for side in ["left", "bottom"]:
    ax.spines[side].set_color(grid_col)
    ax.spines[side].set_linewidth(0.75)

ax.tick_params(axis="both", direction="out", length=3.5, width=0.75, color=grid_col,
               labelsize=11, labelcolor="black", pad=5, left=True, bottom=True)

ax.set_xlabel("Year", fontsize=10.5, fontweight="bold", color="black")
ax.set_ylabel("Daily Mean Depth to Water (feet)", fontsize=10.5, fontweight="bold", color="black")
ax.xaxis.set_label_coords(0.5, -0.046)
ax.xaxis.label.set_va("center")
ax.yaxis.set_label_coords(-0.0261, 0.5)
ax.yaxis.label.set_va("center")
ax.yaxis.label.set_ha("center")

fig.savefig("out.png", dpi=200, facecolor="white")
